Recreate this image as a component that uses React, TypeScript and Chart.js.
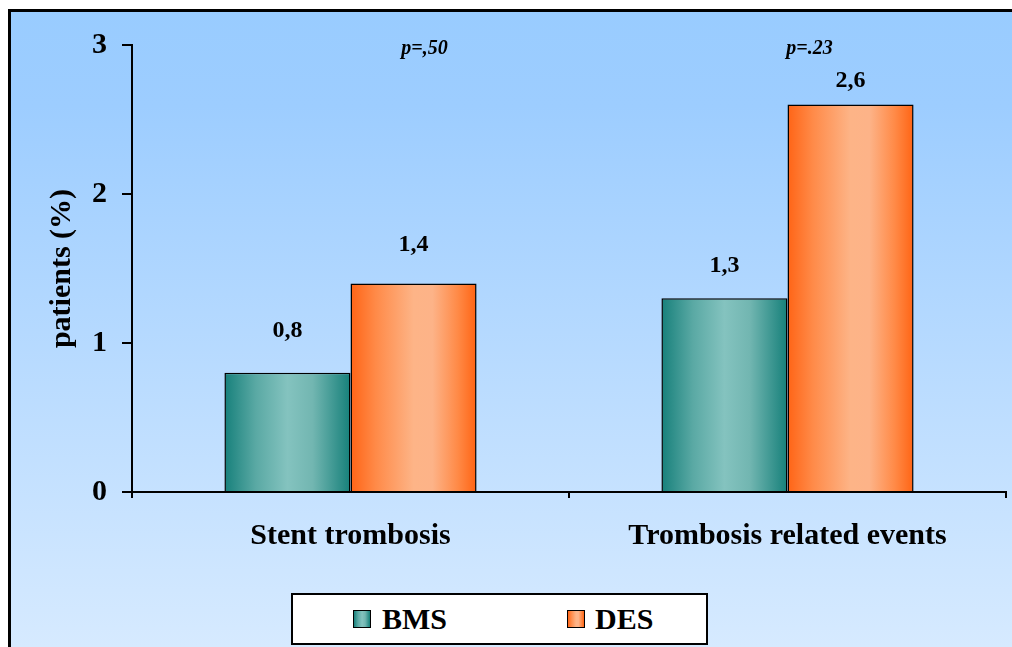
import React, { useEffect, useRef } from "react";
import { Chart, registerables } from "chart.js";

Chart.register(...registerables);

const categories = ["Stent trombosis", "Trombosis related events"];
const seriesNames = ["BMS", "DES"];
const bmsValues = [0.8, 1.3];
const desValues = [1.4, 2.6];
const valueLabels = [["0,8", "1,3"], ["1,4", "2,6"]];
const pValues = ["p=,50", "p=.23"];
const yTicks = [0, 1, 2, 3];

// style constants (pixel offsets for annotations)
const LABEL_LIFT = [[42, 33], [39, 24]];
const P_SHIFT_X = [74, 22];
const P_Y = 49;
const CAT_PCT = 0.577;

const SERIF = "'Liberation Serif', 'Times New Roman', serif";

const TEAL_STOPS: [number, string][] = [
  [0, "#17807b"], [0.25, "#5aa9a4"], [0.5, "#84c3bf"], [0.7, "#72b6b1"], [1, "#16807a"],
];
const ORANGE_STOPS: [number, string][] = [
  [0, "#ff6416"], [0.2, "#ff8a48"], [0.5, "#fdb487"], [0.65, "#fdb388"], [0.85, "#ff8a47"], [1, "#ff6414"],
];

function makeFill(datasetIndex: number) {
  return (ctx: any) => {
    const chart = ctx.chart;
    const stops = datasetIndex === 0 ? TEAL_STOPS : ORANGE_STOPS;
    const xs = chart.scales && chart.scales.x;
    if (ctx.type !== "data" || !xs || !chart.chartArea) return stops[2][1];
    const center = xs.getPixelForValue(ctx.dataIndex);
    const catW = xs.width / categories.length;
    const barW = (catW * CAT_PCT) / 2;
    const left = datasetIndex === 0 ? center - barW : center;
    const g = chart.ctx.createLinearGradient(left, 0, left + barW, 0);
    stops.forEach(([o, c]) => g.addColorStop(o, c));
    return g;
  };
}

const framePlugin = {
  id: "frame",
  beforeDraw(chart: any) {
    const { ctx, width, height } = chart;
    ctx.save();
    ctx.fillStyle = "#ffffff";
    ctx.fillRect(0, 0, width, height);
    const g = ctx.createLinearGradient(0, 10, 0, height);
    g.addColorStop(0, "#99ccff");
    g.addColorStop(0.15, "#9dcdff");
    g.addColorStop(1, "#d6eaff");
    ctx.fillStyle = g;
    ctx.fillRect(9, 10, width - 9, height - 10);
    ctx.strokeStyle = "#000";
    ctx.lineWidth = 3;
    ctx.beginPath();
    ctx.moveTo(9.5, height);
    ctx.lineTo(9.5, 10.5);
    ctx.lineTo(width, 10.5);
    ctx.stroke();
    ctx.restore();
  },
};

const labelPlugin = {
  id: "annotations",
  afterDatasetsDraw(chart: any) {
    const { ctx } = chart;
    ctx.save();
    ctx.fillStyle = "#000";
    ctx.textAlign = "center";
    ctx.textBaseline = "middle";
    ctx.font = `bold 24px ${SERIF}`;
    chart.data.datasets.forEach((_: any, di: number) => {
      const meta = chart.getDatasetMeta(di);
      meta.data.forEach((el: any, i: number) => {
        ctx.fillText(valueLabels[di][i], el.x, el.y - LABEL_LIFT[di][i]);
      });
    });
    ctx.font = `italic bold 20px ${SERIF}`;
    const xs = chart.scales.x;
    pValues.forEach((p, i) => {
      ctx.fillText(p, xs.getPixelForValue(i) + P_SHIFT_X[i], P_Y);
    });
    ctx.restore();
  },
};

export default function App() {
  const ref = useRef<HTMLCanvasElement>(null);

  useEffect(() => {
    if (!ref.current) return;
    const chart = new Chart(ref.current, {
      type: "bar",
      data: {
        labels: categories,
        datasets: [
          {
            label: seriesNames[0],
            data: bmsValues,
            backgroundColor: makeFill(0),
            borderColor: "#000",
            borderWidth: 1.5,
            categoryPercentage: CAT_PCT,
            barPercentage: 1,
          },
          {
            label: seriesNames[1],
            data: desValues,
            backgroundColor: makeFill(1),
            borderColor: "#000",
            borderWidth: 1.5,
            categoryPercentage: CAT_PCT,
            barPercentage: 1,
          },
        ],
      },
      options: {
        responsive: false,
        animation: false,
        events: [],
        layout: { padding: { left: 10, top: 45, right: 6, bottom: 0 } },
        plugins: {
          legend: { display: false },
          tooltip: { enabled: false },
        },
        scales: {
          x: {
            offset: true,
            grid: {
              display: true,
              offset: true,
              drawOnChartArea: false,
              drawTicks: true,
              tickLength: 6,
              color: "#000",
              lineWidth: 2,
            },
            border: { display: true, color: "#000", width: 2 },
            ticks: {
              color: "#000",
              font: { family: SERIF, size: 30, weight: "bold" },
              padding: 20,
              maxRotation: 0,
              autoSkip: false,
            },
            afterFit: (s: any) => {
              s.height = 155;
            },
          },
          y: {
            min: 0,
            max: 3,
            afterBuildTicks: (s: any) => {
              s.ticks = yTicks.map((v) => ({ value: v }));
            },
            grid: {
              display: true,
              drawOnChartArea: false,
              drawTicks: true,
              tickLength: 10,
              color: "#000",
              lineWidth: 2,
            },
            border: { display: true, color: "#000", width: 2 },
            ticks: {
              color: "#000",
              font: { family: SERIF, size: 30, weight: "bold" },
              padding: 15,
            },
            title: {
              display: true,
              text: "patients (%)",
              color: "#000",
              font: { family: SERIF, size: 30, weight: "bold" },
              padding: { top: 34, bottom: 0 },
            },
            afterFit: (s: any) => {
              s.width = 122;
            },
          },
        },
      },
      plugins: [framePlugin, labelPlugin],
    });
    return () => chart.destroy();
  }, []);

  const swatch = (stops: [number, string][]) => ({
    position: "absolute" as const,
    top: 15,
    width: 16,
    height: 16,
    border: "1.5px solid #000",
    background: `linear-gradient(to right, ${stops.map(([o, c]) => `${c} ${o * 100}%`).join(", ")})`,
  });
  const legendText = {
    position: "absolute" as const,
    top: 0,
    lineHeight: "48px",
    fontFamily: SERIF,
    fontWeight: "bold" as const,
    fontSize: 30,
    color: "#000",
  };

  return (
    <div style={{ position: "fixed", left: 0, top: 0, width: 1012, height: 647, overflow: "hidden" }}>
      <canvas ref={ref} width={1012} height={647} style={{ display: "block", width: 1012, height: 647 }} />
      <div
        style={{
          position: "absolute",
          left: 291,
          top: 593,
          width: 417,
          height: 52,
          boxSizing: "border-box",
          border: "2px solid #000",
          background: "#fff",
        }}
      >
        <div style={{ ...swatch(TEAL_STOPS), left: 60 }} />
        <div style={{ ...legendText, left: 89 }}>{seriesNames[0]}</div>
        <div style={{ ...swatch(ORANGE_STOPS), left: 274 }} />
        <div style={{ ...legendText, left: 302 }}>{seriesNames[1]}</div>
      </div>
    </div>
  );
}
